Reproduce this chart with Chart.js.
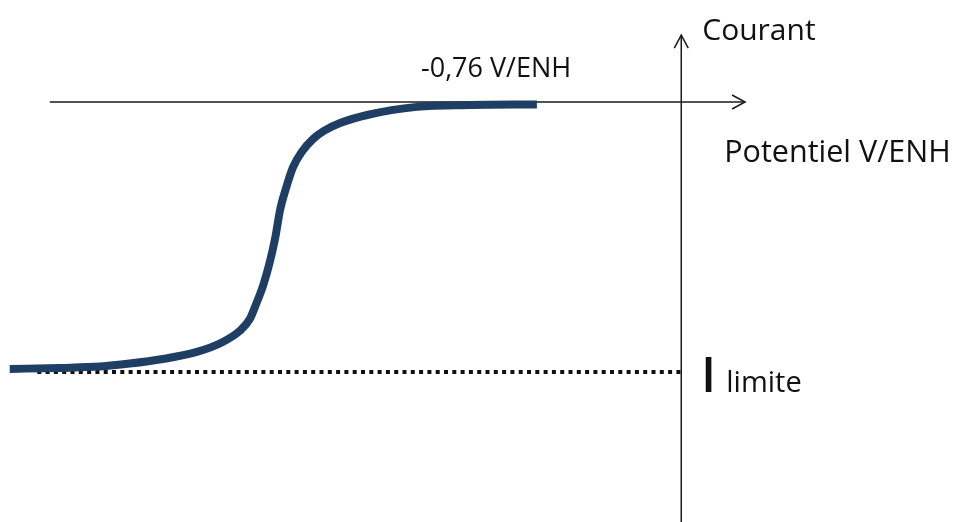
<!DOCTYPE html>
<html>
<head>
<meta charset="utf-8">
<script src="https://cdn.jsdelivr.net/npm/chart.js@4"></script>
<style>
  html, body { margin: 0; padding: 0; background: #fff; }
  #wrap { width: 957px; height: 522px; }
</style>
</head>
<body>
<div id="wrap"><canvas id="myChart"></canvas></div>
<script>
// * Polarisation curve (potential in V/ENH, current relative to I limite)
const potentiel = [-1.242, -1.149, -1.075, -1.020, -0.959, -0.896, -0.848, -0.816, -0.798, -0.787, -0.773,
    -0.761, -0.751, -0.742, -0.731, -0.718, -0.702, -0.681, -0.661, -0.631, -0.581, -0.489, -0.391, -0.267];
const courant = [-0.989, -0.985, -0.980, -0.969, -0.952, -0.926, -0.889, -0.847, -0.804, -0.752, -0.678,
    -0.593, -0.504, -0.400, -0.319, -0.241, -0.185, -0.137, -0.107, -0.078, -0.048, -0.018, -0.011, -0.009];

// * Limiting current (dotted line)
const limiteX = [-1.191, 0];
const limiteY = -1;

// * Axis extents
const axeXRange = [-1.168, 0.118];
const axeYRange = [-1.556, 0.248];

// * View window
const xBounds = [-1.26, 0.51];
const yBounds = [-1.556, 0.378];

const ctx = document.getElementById("myChart").getContext("2d");

const axesPlugin = {
    id: "axesPlugin",
    afterDatasetsDraw(chart) {
        const { ctx, scales } = chart;
        const x = scales.x, y = scales.y;
        const x0 = x.getPixelForValue(0);
        const y0 = y.getPixelForValue(0);
        const xEnd = x.getPixelForValue(axeXRange[1]);
        const yTop = y.getPixelForValue(axeYRange[1]);

        ctx.save();
        ctx.strokeStyle = "#1a1a1a";
        ctx.lineWidth = 1.5;
        ctx.beginPath();
        // arrow on potential axis
        ctx.moveTo(xEnd - 13, y0 - 7);
        ctx.lineTo(xEnd, y0);
        ctx.lineTo(xEnd - 13, y0 + 7);
        // arrow on current axis
        ctx.moveTo(x0 - 7, yTop + 13);
        ctx.lineTo(x0, yTop);
        ctx.lineTo(x0 + 7, yTop + 13);
        ctx.stroke();

        ctx.fillStyle = "#111";
        ctx.textBaseline = "alphabetic";
        ctx.font = "30px 'Open Sans'";
        ctx.fillText("Courant", x0 + 21, 40);
        ctx.font = "30.5px 'Open Sans'";
        ctx.fillText("Potentiel V/ENH", x0 + 43, 162);
        ctx.font = "27px 'Open Sans'";
        ctx.fillText("-0,76 V/ENH", 421, 77);

        const yLim = y.getPixelForValue(limiteY);
        ctx.font = "600 48px 'Open Sans'";
        ctx.fillText("I", x0 + 20, yLim + 20);
        ctx.font = "29px 'Open Sans'";
        ctx.fillText("limite", x0 + 45, yLim + 20);
        ctx.restore();
    },
};

const config = {
    type: "scatter",
    data: {
        datasets: [
            {
                // potential axis
                data: axeXRange.map((v) => ({ x: v, y: 0 })),
                showLine: true,
                borderColor: "#1a1a1a",
                borderWidth: 1.5,
                pointRadius: 0,
                order: 3,
            },
            {
                // current axis
                data: axeYRange.map((v) => ({ x: 0, y: v })),
                showLine: true,
                borderColor: "#1a1a1a",
                borderWidth: 1.5,
                pointRadius: 0,
                order: 3,
            },
            {
                data: limiteX.map((v) => ({ x: v, y: limiteY })),
                showLine: true,
                borderColor: "#111",
                borderWidth: 4,
                borderDash: [4, 4.3],
                borderCapStyle: "butt",
                pointRadius: 0,
                order: 2,
            },
            {
                data: potentiel.map((v, i) => ({ x: v, y: courant[i] })),
                showLine: true,
                borderColor: "#1F3E64",
                borderWidth: 8,
                borderCapStyle: "butt",
                cubicInterpolationMode: "monotone",
                pointRadius: 0,
                order: 1,
            },
        ],
    },
    options: {
        animation: false,
        responsive: true,
        maintainAspectRatio: false,
        layout: { padding: 0 },
        plugins: {
            legend: false,
            tooltip: { enabled: false },
        },
        scales: {
            x: { type: "linear", display: false, min: xBounds[0], max: xBounds[1] },
            y: { type: "linear", display: false, min: yBounds[0], max: yBounds[1] },
        },
    },
    plugins: [axesPlugin],
};

const chart = new Chart(ctx, config);
</script>
</body>
</html>
